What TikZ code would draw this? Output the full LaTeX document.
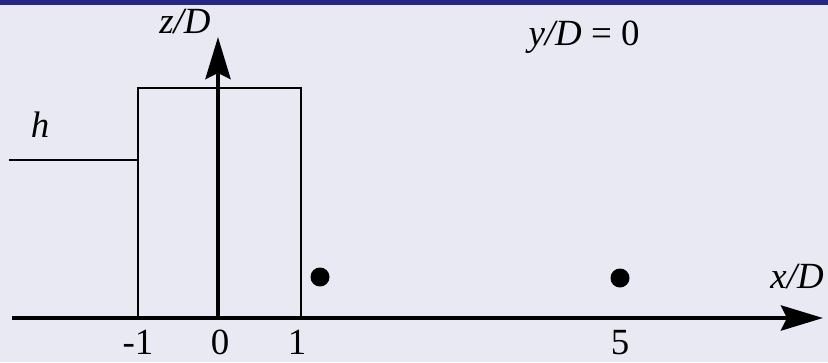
\documentclass[tikz,border=0pt]{standalone}
\usepackage{fontspec}
\setmainfont{Liberation Serif}
\newfontfamily\labelfont{Liberation Serif}
\usetikzlibrary{arrows.meta}
\definecolor{panelbg}{RGB}{233,233,243}
\definecolor{topbar}{RGB}{38,38,136}

\begin{document}
\begin{tikzpicture}[
  x=0.02cm, y=-0.02cm,
  every node/.style={font=\labelfont\fontsize{21}{25}\selectfont, inner sep=0pt},
  axis/.style={line width=2.6pt, -{Stealth[length=0.84cm, width=0.5cm, inset=0.12cm]}},
  tick/.style={anchor=base},
  >=Stealth
]

% panel and top bar
\fill[panelbg] (0,0) rectangle (828,362);
\fill[topbar] (0,0) rectangle (828,5);
\useasboundingbox (0,0) rectangle (828,362);

% reference points
\coordinate (O) at (218,318);
\coordinate (xstart) at (12,318);
\coordinate (xend) at (823,318);
\coordinate (zend) at (218,37);
\coordinate (hstart) at (9,160);
\coordinate (hend) at (138,160);

% body and height line
\draw[line width=1.3pt] (138,318) |- (301,88) -- (301,318);
\draw[line width=1.3pt] (hstart) -- (hend);

% axes
\draw[axis] (xstart) -- (xend);
\draw[axis] (O) -- (zend);

% probe points
\fill (320,277) circle (9.5) coordinate (p1);
\fill (620,278) circle (9.5) coordinate (p2);

% labels
\node[tick] (zlab) at (185,33) {\textit{z/D}};
\node[tick] (xlab) at (797,288) {\textit{x/D}};
\node[tick] (hlab) at (40,137) {\textit{h}};
\node[tick] (ylab) at (584,45) {\textit{y/D}\ =\ 0};

% ticks
\node[tick] (tm1) at (138,354) {-1};
\node[tick] (t0) at (220,354) {0};
\node[tick] (t1) at (297,354) {1};
\node[tick] (t5) at (620,354) {5};

\end{tikzpicture}
\end{document}
